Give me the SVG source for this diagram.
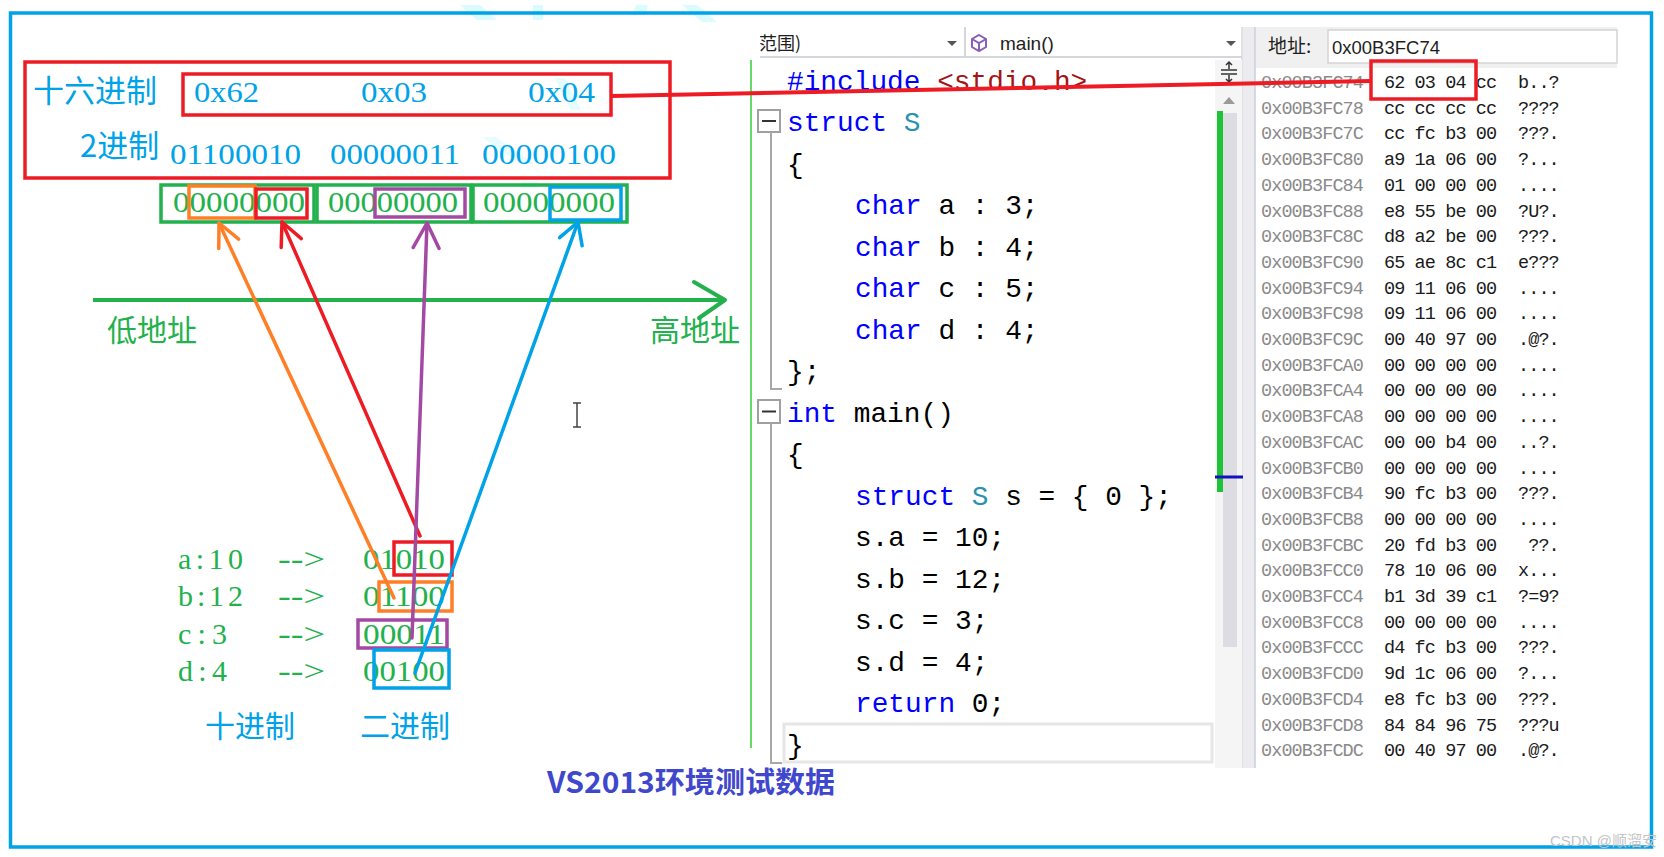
<svg xmlns="http://www.w3.org/2000/svg" width="1664" height="857" viewBox="0 0 1664 857">
<style>
.cjk{font-family:"Noto Sans CJK SC","Noto Sans",sans-serif;}
.ser{font-family:"Liberation Serif","Noto Sans CJK SC",serif;}
.sans{font-family:"Liberation Sans","Noto Sans CJK SC",sans-serif;}
.mono{font-family:"Liberation Mono","Noto Sans CJK SC",monospace;white-space:pre;}
.code{font-size:27.8px;fill:#000;}
.kw{fill:#0000ff;}
.ty{fill:#2b91af;}
.str{fill:#a31515;}
.mem{font-size:18.5px;letter-spacing:-0.9px;}
.addr{fill:#8a8a8a;}
.byte{fill:#1a1a1a;}
.cblue{fill:#00a2e8;}
.cgreen{fill:#22b14c;}
.box{fill:none;stroke-width:3.5;}
.gbox{fill:none;stroke:#22b14c;stroke-width:3.5;}
.wm{fill:#dcfbff;}
.conn{fill:none;stroke-width:3.5;stroke-linecap:round;}
.guide{fill:none;stroke:#a8a8a8;stroke-width:2;}
</style>
<defs>
<marker id="ah-orange" markerUnits="userSpaceOnUse" markerWidth="40" markerHeight="40" viewBox="-30 -20 40 40" refX="0" refY="0" orient="auto" overflow="visible"><path d="M-23,-11 L0,0 L-23,11" fill="none" stroke="#ff7f27" stroke-width="3.5" stroke-linecap="round" stroke-linejoin="round"/></marker>
<marker id="ah-red" markerUnits="userSpaceOnUse" markerWidth="40" markerHeight="40" viewBox="-30 -20 40 40" refX="0" refY="0" orient="auto" overflow="visible"><path d="M-23,-11 L0,0 L-23,11" fill="none" stroke="#ed1c24" stroke-width="3.5" stroke-linecap="round" stroke-linejoin="round"/></marker>
<marker id="ah-purple" markerUnits="userSpaceOnUse" markerWidth="40" markerHeight="40" viewBox="-30 -20 40 40" refX="0" refY="0" orient="auto" overflow="visible"><path d="M-25,-13 L0,0 L-25,13" fill="none" stroke="#a349a4" stroke-width="3.5" stroke-linecap="round" stroke-linejoin="round"/></marker>
<marker id="ah-blue" markerUnits="userSpaceOnUse" markerWidth="40" markerHeight="40" viewBox="-30 -20 40 40" refX="0" refY="0" orient="auto" overflow="visible"><path d="M-21,-12 L0,0 L-21,12" fill="none" stroke="#00a2e8" stroke-width="3.5" stroke-linecap="round" stroke-linejoin="round"/></marker>
<marker id="ah-green" markerUnits="userSpaceOnUse" markerWidth="50" markerHeight="50" viewBox="-40 -25 50 50" refX="0" refY="0" orient="auto" overflow="visible"><path d="M-31,-18 L0,0 L-26,18" fill="none" stroke="#22b14c" stroke-width="4" stroke-linecap="round" stroke-linejoin="round"/></marker>
<clipPath id="tbclip"><rect x="760" y="27" width="200" height="30"/></clipPath>
</defs>

<rect x="0" y="0" width="1664" height="857" fill="#ffffff"/>

<!-- faint watermark shapes -->
<g id="watermark-shapes">
<polygon class="wm" points="460,5 480,5 497,20 477,20"/>
<rect class="wm" x="533" y="5" width="10" height="15"/>
<polygon class="wm" points="636,5 648,5 645,15 632,15"/>
<polygon class="wm" points="682,5 697,5 717,22 702,22"/>
<polygon class="wm" points="555,78 565,78 581,110 571,110" opacity="0.7"/>
<polygon class="wm" points="482,137 496,137 534,164 520,164" opacity="0.7"/>
<rect class="wm" x="521" y="182" width="17" height="6" opacity="0.7"/>
</g>

<!-- outer frame -->
<rect id="frame" x="10.5" y="13" width="1641" height="834" fill="none" stroke="#00a2e8" stroke-width="3.5"/>

<!-- top hex / binary box -->
<g id="hex-box">
<rect class="box" x="25" y="62" width="645" height="116" stroke="#ed1c24" stroke-width="4"/>
<rect class="box" x="183" y="74" width="428" height="41" stroke="#ed1c24" stroke-width="4"/>
<text class="cjk cblue" x="33" y="102" font-size="31">十六进制</text>
<text class="cjk cblue" x="80" y="157" font-size="31">2进制</text>
<text class="ser cblue" x="194" y="102" font-size="29" textLength="65" lengthAdjust="spacingAndGlyphs">0x62</text>
<text class="ser cblue" x="361" y="102" font-size="29" textLength="66" lengthAdjust="spacingAndGlyphs">0x03</text>
<text class="ser cblue" x="528" y="102" font-size="29" textLength="67" lengthAdjust="spacingAndGlyphs">0x04</text>
<text class="ser cblue" x="170" y="164" font-size="30" textLength="131" lengthAdjust="spacingAndGlyphs">01100010</text>
<text class="ser cblue" x="330" y="164" font-size="30" textLength="130" lengthAdjust="spacingAndGlyphs">00000011</text>
<text class="ser cblue" x="482" y="164" font-size="30" textLength="134" lengthAdjust="spacingAndGlyphs">00000100</text>
</g>

<!-- memory bytes row -->
<g id="byte-boxes">
<rect class="gbox" x="161" y="185" width="153" height="37"/>
<rect class="gbox" x="317" y="185" width="154" height="37"/>
<rect class="gbox" x="473" y="185" width="154" height="37"/>
<text class="ser cgreen" x="173" y="212" font-size="30" textLength="132" lengthAdjust="spacingAndGlyphs">00000000</text>
<text class="ser cgreen" x="328" y="212" font-size="30" textLength="130" lengthAdjust="spacingAndGlyphs">00000000</text>
<text class="ser cgreen" x="483" y="212" font-size="30" textLength="132" lengthAdjust="spacingAndGlyphs">00000000</text>
<rect class="box" x="189" y="186" width="66" height="32" stroke="#ff7f27"/>
<rect class="box" x="256" y="189" width="51" height="29" stroke="#ed1c24"/>
<rect class="box" x="375" y="189" width="90" height="28" stroke="#a349a4"/>
<rect class="box" x="550" y="187" width="71" height="33" stroke="#00a2e8"/>
</g>

<!-- address axis -->
<g id="axis">
<text class="cjk cgreen" x="107" y="341" font-size="30">低地址</text>
<text class="cjk cgreen" x="650" y="341" font-size="30">高地址</text>
</g>

<!-- bit-field values -->
<g id="fields">
<text class="ser cgreen" x="178" y="569" font-size="30" textLength="65" lengthAdjust="spacing">a:10</text>
<text class="ser cgreen" x="178" y="606" font-size="30" textLength="65" lengthAdjust="spacing">b:12</text>
<text class="ser cgreen" x="178" y="644" font-size="30" textLength="49" lengthAdjust="spacing">c:3</text>
<text class="ser cgreen" x="178" y="681" font-size="30" textLength="49" lengthAdjust="spacing">d:4</text>
<text class="ser cgreen" x="278" y="569" font-size="30" textLength="47" lengthAdjust="spacingAndGlyphs">--&gt;</text>
<text class="ser cgreen" x="278" y="606" font-size="30" textLength="47" lengthAdjust="spacingAndGlyphs">--&gt;</text>
<text class="ser cgreen" x="278" y="644" font-size="30" textLength="47" lengthAdjust="spacingAndGlyphs">--&gt;</text>
<text class="ser cgreen" x="278" y="681" font-size="30" textLength="47" lengthAdjust="spacingAndGlyphs">--&gt;</text>
<text class="ser cgreen" x="363" y="569" font-size="30" textLength="82" lengthAdjust="spacingAndGlyphs">01010</text>
<text class="ser cgreen" x="363" y="606" font-size="30" textLength="82" lengthAdjust="spacingAndGlyphs">01100</text>
<text class="ser cgreen" x="363" y="644" font-size="30" textLength="82" lengthAdjust="spacingAndGlyphs">00011</text>
<text class="ser cgreen" x="363" y="681" font-size="30" textLength="82" lengthAdjust="spacingAndGlyphs">00100</text>
<rect class="box" x="394" y="542" width="58" height="33" stroke="#ed1c24"/>
<rect class="box" x="379" y="582" width="73" height="29" stroke="#ff7f27"/>
<rect class="box" x="358" y="620" width="89" height="28" stroke="#a349a4"/>
<rect class="box" x="374" y="650" width="75" height="38" stroke="#00a2e8"/>
<text class="cjk cblue" x="205" y="737" font-size="30">十进制</text>
<text class="cjk cblue" x="360" y="737" font-size="30">二进制</text>
</g>

<!-- text cursor -->
<path id="cursor" d="M573 403 H581 M577 403 V427 M573 427 H581" stroke="#444" stroke-width="1.5" fill="none"/>

<!-- caption -->
<text id="caption" class="cjk" x="547" y="793" font-size="29" font-weight="bold" fill="#3f48cc" textLength="288" lengthAdjust="spacingAndGlyphs">VS2013环境测试数据</text>

<!-- code editor -->
<g id="editor">
<line x1="751" y1="60" x2="751" y2="748" stroke="#33cc33" stroke-width="1.5"/>
<line x1="760" y1="57" x2="1242" y2="57" stroke="#d6d7dc" stroke-width="2"/>
<line x1="965" y1="27" x2="965" y2="57" stroke="#d6d7dc" stroke-width="2"/>
<line x1="1242" y1="27" x2="1242" y2="768" stroke="#d6d7dc" stroke-width="1.5"/>
<text class="cjk" x="741" y="50" font-size="18" fill="#1e1e1e" clip-path="url(#tbclip)">局范围)</text>
<path d="M947 41 L957 41 L952 46 Z" fill="#555"/>
<g fill="none" stroke="#8a5fb5" stroke-width="2"><polygon points="979,35 986,39 986,47 979,51 972,47 972,39"/><path d="M972,39 L979,43 L986,39 M979,43 V51"/></g>
<text class="sans" x="1000" y="50" font-size="19" fill="#1e1e1e">main()</text>
<path d="M1226 41 L1236 41 L1231 46 Z" fill="#555"/>
<rect x="1215" y="60" width="27" height="708" fill="#f5f5f5"/>
<rect x="1223" y="113" width="14" height="534" fill="#dcdce2"/>
<rect x="1217" y="111" width="6" height="381" fill="#1ec337"/>
<line x1="1215" y1="477" x2="1243" y2="477" stroke="#1010c0" stroke-width="3"/>
<path d="M1221 70 H1237 M1221 74 H1237 M1229 62 V69 M1226 65 L1229 62 L1232 65 M1229 75 V82 M1226 79 L1229 82 L1232 79" stroke="#333" stroke-width="1.5" fill="none"/>
<path d="M1223 104 L1229 97 L1235 104 Z" fill="#9a9a9a"/>
<rect x="758" y="110" width="22" height="22" fill="#fff" stroke="#a0a0a0" stroke-width="2"/>
<line x1="762" y1="121" x2="776" y2="121" stroke="#333" stroke-width="2"/>
<path class="guide" d="M771 132 V389 H782"/>
<rect x="758" y="400" width="22" height="23" fill="#fff" stroke="#a0a0a0" stroke-width="2"/>
<line x1="762" y1="411.5" x2="776" y2="411.5" stroke="#333" stroke-width="2"/>
<path class="guide" d="M771 423 V763 H782"/>
<rect x="784" y="724" width="428" height="38" fill="none" stroke="#e6e6e6" stroke-width="3"/>
<text class="mono code" x="787" y="89.5"><tspan class="kw">#include</tspan> <tspan class="str">&lt;stdio.h&gt;</tspan></text>
<text class="mono code" x="787" y="131"><tspan class="kw">struct</tspan> <tspan class="ty">S</tspan></text>
<text class="mono code" x="787" y="172.5">{</text>
<text class="mono code" x="855" y="214"><tspan class="kw">char</tspan> a : 3;</text>
<text class="mono code" x="855" y="255.5"><tspan class="kw">char</tspan> b : 4;</text>
<text class="mono code" x="855" y="297"><tspan class="kw">char</tspan> c : 5;</text>
<text class="mono code" x="855" y="338.5"><tspan class="kw">char</tspan> d : 4;</text>
<text class="mono code" x="787" y="380">};</text>
<text class="mono code" x="787" y="421.5"><tspan class="kw">int</tspan> main()</text>
<text class="mono code" x="787" y="463">{</text>
<text class="mono code" x="855" y="504.5"><tspan class="kw">struct</tspan> <tspan class="ty">S</tspan> s = { 0 };</text>
<text class="mono code" x="855" y="546">s.a = 10;</text>
<text class="mono code" x="855" y="587.5">s.b = 12;</text>
<text class="mono code" x="855" y="629">s.c = 3;</text>
<text class="mono code" x="855" y="670.5">s.d = 4;</text>
<text class="mono code" x="855" y="712"><tspan class="kw">return</tspan> 0;</text>
<text class="mono code" x="787" y="753.5">}</text>
</g>

<!-- memory window -->
<g id="memory">
<rect x="1243" y="27" width="12" height="741" fill="#ebebf0"/>
<line x1="1255" y1="27" x2="1255" y2="768" stroke="#cdced6" stroke-width="1.5"/>
<rect x="1256" y="27" width="361" height="41" fill="#f0f0f0"/>
<text class="cjk" x="1268" y="53" font-size="19" fill="#1e1e1e">地址:</text>
<rect x="1328" y="30" width="289" height="33" fill="#fff" stroke="#d4d4d4" stroke-width="1.5"/>
<text class="sans" x="1332" y="54" font-size="18.5" fill="#1e1e1e">0x00B3FC74</text>
<text class="mono mem addr" x="1261" y="88"><tspan x="1261">0x00B3FC74</tspan><tspan x="1261" dy="25.7">0x00B3FC78</tspan><tspan x="1261" dy="25.7">0x00B3FC7C</tspan><tspan x="1261" dy="25.7">0x00B3FC80</tspan><tspan x="1261" dy="25.7">0x00B3FC84</tspan><tspan x="1261" dy="25.7">0x00B3FC88</tspan><tspan x="1261" dy="25.7">0x00B3FC8C</tspan><tspan x="1261" dy="25.7">0x00B3FC90</tspan><tspan x="1261" dy="25.7">0x00B3FC94</tspan><tspan x="1261" dy="25.7">0x00B3FC98</tspan><tspan x="1261" dy="25.7">0x00B3FC9C</tspan><tspan x="1261" dy="25.7">0x00B3FCA0</tspan><tspan x="1261" dy="25.7">0x00B3FCA4</tspan><tspan x="1261" dy="25.7">0x00B3FCA8</tspan><tspan x="1261" dy="25.7">0x00B3FCAC</tspan><tspan x="1261" dy="25.7">0x00B3FCB0</tspan><tspan x="1261" dy="25.7">0x00B3FCB4</tspan><tspan x="1261" dy="25.7">0x00B3FCB8</tspan><tspan x="1261" dy="25.7">0x00B3FCBC</tspan><tspan x="1261" dy="25.7">0x00B3FCC0</tspan><tspan x="1261" dy="25.7">0x00B3FCC4</tspan><tspan x="1261" dy="25.7">0x00B3FCC8</tspan><tspan x="1261" dy="25.7">0x00B3FCCC</tspan><tspan x="1261" dy="25.7">0x00B3FCD0</tspan><tspan x="1261" dy="25.7">0x00B3FCD4</tspan><tspan x="1261" dy="25.7">0x00B3FCD8</tspan><tspan x="1261" dy="25.7">0x00B3FCDC</tspan></text>
<text class="mono mem byte" x="1384" y="88"><tspan x="1384">62 03 04 cc</tspan><tspan x="1384" dy="25.7">cc cc cc cc</tspan><tspan x="1384" dy="25.7">cc fc b3 00</tspan><tspan x="1384" dy="25.7">a9 1a 06 00</tspan><tspan x="1384" dy="25.7">01 00 00 00</tspan><tspan x="1384" dy="25.7">e8 55 be 00</tspan><tspan x="1384" dy="25.7">d8 a2 be 00</tspan><tspan x="1384" dy="25.7">65 ae 8c c1</tspan><tspan x="1384" dy="25.7">09 11 06 00</tspan><tspan x="1384" dy="25.7">09 11 06 00</tspan><tspan x="1384" dy="25.7">00 40 97 00</tspan><tspan x="1384" dy="25.7">00 00 00 00</tspan><tspan x="1384" dy="25.7">00 00 00 00</tspan><tspan x="1384" dy="25.7">00 00 00 00</tspan><tspan x="1384" dy="25.7">00 00 b4 00</tspan><tspan x="1384" dy="25.7">00 00 00 00</tspan><tspan x="1384" dy="25.7">90 fc b3 00</tspan><tspan x="1384" dy="25.7">00 00 00 00</tspan><tspan x="1384" dy="25.7">20 fd b3 00</tspan><tspan x="1384" dy="25.7">78 10 06 00</tspan><tspan x="1384" dy="25.7">b1 3d 39 c1</tspan><tspan x="1384" dy="25.7">00 00 00 00</tspan><tspan x="1384" dy="25.7">d4 fc b3 00</tspan><tspan x="1384" dy="25.7">9d 1c 06 00</tspan><tspan x="1384" dy="25.7">e8 fc b3 00</tspan><tspan x="1384" dy="25.7">84 84 96 75</tspan><tspan x="1384" dy="25.7">00 40 97 00</tspan></text>
<text class="mono mem byte" x="1518" y="88" xml:space="preserve"><tspan x="1518">b..?</tspan><tspan x="1518" dy="25.7">????</tspan><tspan x="1518" dy="25.7">???.</tspan><tspan x="1518" dy="25.7">?...</tspan><tspan x="1518" dy="25.7">....</tspan><tspan x="1518" dy="25.7">?U?.</tspan><tspan x="1518" dy="25.7">???.</tspan><tspan x="1518" dy="25.7">e???</tspan><tspan x="1518" dy="25.7">....</tspan><tspan x="1518" dy="25.7">....</tspan><tspan x="1518" dy="25.7">.@?.</tspan><tspan x="1518" dy="25.7">....</tspan><tspan x="1518" dy="25.7">....</tspan><tspan x="1518" dy="25.7">....</tspan><tspan x="1518" dy="25.7">..?.</tspan><tspan x="1518" dy="25.7">....</tspan><tspan x="1518" dy="25.7">???.</tspan><tspan x="1518" dy="25.7">....</tspan><tspan x="1528.2" dy="25.7">??.</tspan><tspan x="1518" dy="25.7">x...</tspan><tspan x="1518" dy="25.7">?=9?</tspan><tspan x="1518" dy="25.7">....</tspan><tspan x="1518" dy="25.7">???.</tspan><tspan x="1518" dy="25.7">?...</tspan><tspan x="1518" dy="25.7">???.</tspan><tspan x="1518" dy="25.7">???u</tspan><tspan x="1518" dy="25.7">.@?.</tspan></text>
<rect class="box" x="1371" y="61" width="105" height="38" stroke="#ed1c24" stroke-width="4"/>
</g>

<!-- connectors -->
<g id="connectors">
<line x1="93" y1="300" x2="725" y2="300" stroke="#22b14c" stroke-width="4" marker-end="url(#ah-green)"/>
<line class="conn" x1="394" y1="598" x2="219" y2="223" stroke="#ff7f27" stroke-width="3" marker-end="url(#ah-orange)"/>
<line class="conn" x1="420" y1="536" x2="282" y2="222" stroke="#ed1c24" marker-end="url(#ah-red)"/>
<line class="conn" x1="412" y1="638" x2="427" y2="223" stroke="#a349a4" marker-end="url(#ah-purple)"/>
<line class="conn" x1="415" y1="673" x2="578" y2="222" stroke="#00a2e8" stroke-width="3" marker-end="url(#ah-blue)"/>
<line x1="611" y1="96" x2="1371" y2="81" stroke="#ed1c24" stroke-width="4"/>
</g>

<text id="credit" class="sans" x="1550" y="846" font-size="15" fill="#c4c4c4">CSDN @顺溜安</text>
</svg>
